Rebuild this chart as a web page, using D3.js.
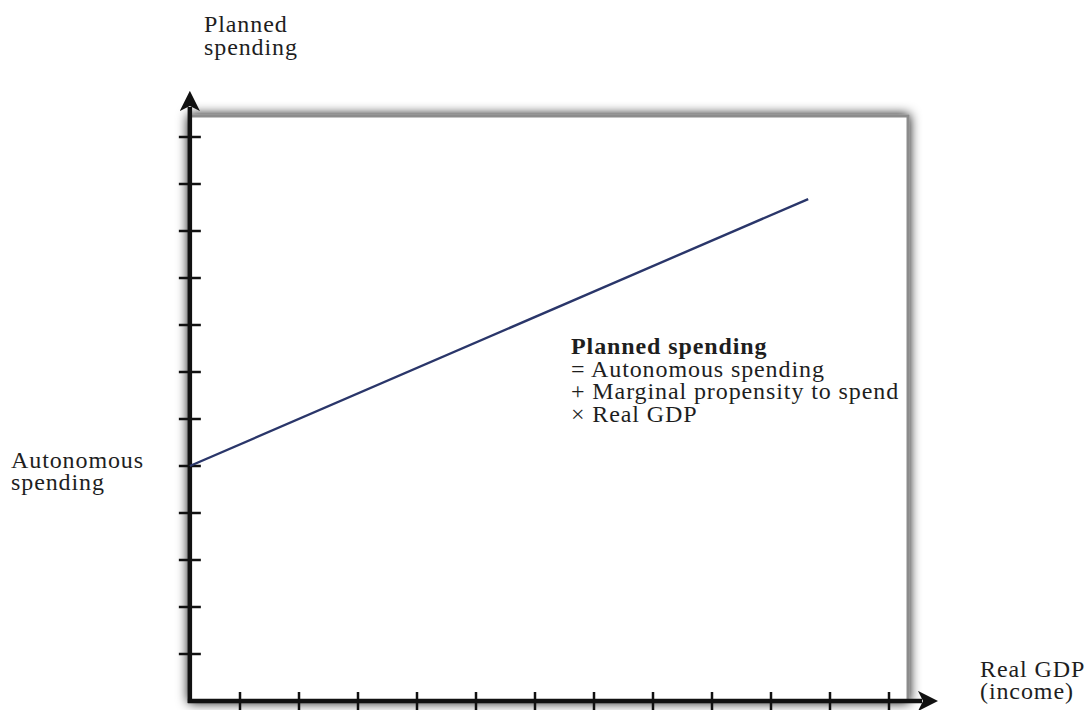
<html>
<head>
    <style>
        body { margin: 0; background: #fff; }
        text { font-family: "Liberation Serif", "Times New Roman", serif; fill: #1e1e1e; }
        .lbl { font-size: 24px; letter-spacing: 0.9px; }
        .axis line { stroke: #111; }
    </style>
</head>
<body>
    <svg id="container" width="1087" height="710"></svg>
</body>
<script src="https://cdn.jsdelivr.net/npm/d3@7"></script>
<script>
    // tick positions (no numeric labels in the picture)
    const xTickValues = [1, 2, 3, 4, 5, 6, 7, 8, 9, 10, 11, 12]
    const yTickValues = [1, 2, 3, 4, 5, 6, 7, 8, 9, 10, 11, 12]

    // planned spending line
    const realGdp = [0.15, 10.63]
    const plannedSpending = [5, 10.68]

    const yLabel = ["Planned", "spending"]
    const xLabel = ["Real GDP", "(income)"]
    const interceptLabel = ["Autonomous", "spending"]
    const formulaLines = ["Planned spending", "= Autonomous spending", "+ Marginal propensity to spend", "\u00d7 Real GDP"]

    const svg = d3.select("#container")

    let x = d3.scaleLinear().domain([0, 12]).range([181, 889])
    let y = d3.scaleLinear().domain([0, 12]).range([701, 137])
    let x0 = x(0.15)
    let y0 = y(0)

    // shadowed panel
    let defs = svg.append("defs")
    let f = defs.append("filter").attr("id", "shadow")
        .attr("x", "-10%").attr("y", "-10%").attr("width", "120%").attr("height", "120%")
    f.append("feGaussianBlur").attr("in", "SourceAlpha").attr("stdDeviation", 6).attr("result", "blur")
    f.append("feFlood").attr("flood-color", "#000").attr("flood-opacity", 1)
    f.append("feComposite").attr("in2", "blur").attr("operator", "in").attr("result", "sh")
    let m = f.append("feMerge")
    m.append("feMergeNode").attr("in", "sh")
    m.append("feMergeNode").attr("in", "SourceGraphic")

    svg.append("rect")
        .attr("x", x0).attr("y", 116)
        .attr("width", 908 - x0).attr("height", y0 - 116)
        .attr("fill", "#fff")
        .attr("stroke", "#8c8c8c")
        .attr("stroke-width", 3)
        .attr("filter", "url(#shadow)")

    defs.append("marker").attr("id", "arrow")
        .attr("viewBox", "0 0 10 10").attr("refX", 2).attr("refY", 5)
        .attr("markerWidth", 4.5).attr("markerHeight", 4.5)
        .attr("markerUnits", "strokeWidth")
        .attr("orient", "auto")
        .append("path").attr("d", "M0,0 L10,5 L0,10 L2.5,5 Z").attr("fill", "#111")

    // axes
    let gx = svg.append("g").attr("class", "axis")
    gx.selectAll("line.tick").data(xTickValues).enter().append("line")
        .attr("class", "tick")
        .attr("x1", d => x(d)).attr("x2", d => x(d))
        .attr("y1", y0 - 9).attr("y2", y0 + 9)
        .attr("stroke-width", 2.5)
    gx.append("line")
        .attr("x1", x0 - 2).attr("x2", 922)
        .attr("y1", y0).attr("y2", y0)
        .attr("stroke-width", 4.5)
        .attr("marker-end", "url(#arrow)")

    let gy = svg.append("g").attr("class", "axis")
    gy.selectAll("line.tick").data(yTickValues).enter().append("line")
        .attr("class", "tick")
        .attr("x1", x0 - 11).attr("x2", x0 + 11)
        .attr("y1", d => y(d)).attr("y2", d => y(d))
        .attr("stroke-width", 2.5)
    gy.append("line")
        .attr("x1", x0).attr("x2", x0)
        .attr("y1", y0 + 2).attr("y2", 107)
        .attr("stroke-width", 4.5)
        .attr("marker-end", "url(#arrow)")

    // planned spending line
    let pts = realGdp.map((g, i) => [x(g), y(plannedSpending[i])])
    svg.append("path")
        .attr("d", d3.line()(pts))
        .attr("fill", "none")
        .attr("stroke", "#2a366a")
        .attr("stroke-width", 2.4)

    function block(lines, px, py, lh) {
        let t = svg.append("text").attr("class", "lbl")
        lines.forEach((s, i) => {
            t.append("tspan").attr("x", px).attr("y", py + i * lh).text(s)
        })
        return t
    }

    block(yLabel, 204, 32, 23)
    block(interceptLabel, 11, 468, 22)
    block(xLabel, 980, 677, 22)

    let ft = block(formulaLines, 571, 354, 22.5)
    ft.select("tspan").attr("font-weight", "bold")
</script>
</html>
